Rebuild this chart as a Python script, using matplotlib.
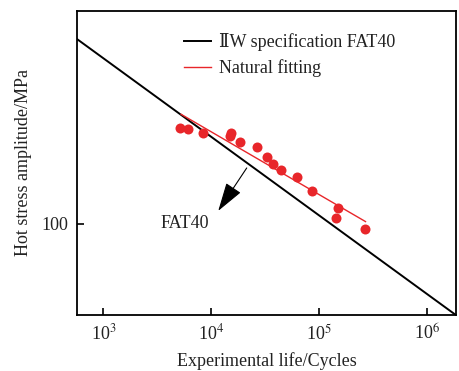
import matplotlib
matplotlib.use("Agg")
import matplotlib.pyplot as plt
from matplotlib.ticker import FixedLocator, NullLocator, FixedFormatter

plt.rcParams['font.family'] = ['Liberation Serif', 'DejaVu Serif']
plt.rcParams['mathtext.fontset'] = 'stix'
plt.rcParams['text.color'] = '#222222'
plt.rcParams['xtick.labelcolor'] = '#222222'
plt.rcParams['ytick.labelcolor'] = '#222222'
plt.rcParams['axes.labelcolor'] = '#222222'

# data
test_N = [5164, 6026, 8433, 15160, 14770, 18510, 26780, 32580, 37030, 44460,
          62030, 85570, 148700, 141600, 267800]
test_S = [254.4, 252.2, 243.8, 243.8, 235.1, 222.6, 212.6, 191.3, 180.1, 169.0,
          158.3, 137.7, 116.5, 105.7, 95.0]
fit_N = [5248, 268400]
fit_S = [291.6, 102.3]
fat_N = [570, 1.85e6]
fat_S = [607.6, 41.05]
x_ticks = [1e3, 1e4, 1e5, 1e6]
x_labels = ['10$^{3}$', '10$^{4}$', '10$^{5}$', '10$^{6}$']
y_ticks = [100]
y_labels = ['100']

fig = plt.figure(figsize=(4.59, 3.71), dpi=100)
ax = fig.add_axes([77/459, 1 - 315/371, (456-77)/459, (315-11)/371])

ax.plot(fat_N, fat_S, color='black', lw=1.4, label='ⅡW specification FAT40')
ax.plot(fit_N, fit_S, color='#e8262a', lw=1.0, label='Natural fitting')
ax.plot(test_N, test_S, 'o', color='#e8262a', ms=7.2, mec='none')

ax.set_xscale('log')
ax.set_yscale('log')
ax.set_xlim(570, 1.85e6)
ax.set_ylim(41.1, 799)

ax.xaxis.set_major_locator(FixedLocator(x_ticks))
ax.xaxis.set_major_formatter(FixedFormatter(x_labels))
ax.xaxis.set_minor_locator(NullLocator())
ax.yaxis.set_major_locator(FixedLocator(y_ticks))
ax.yaxis.set_major_formatter(FixedFormatter(y_labels))
ax.yaxis.set_minor_locator(NullLocator())
ax.tick_params(direction='in', length=5, width=1.2, labelsize=13, pad=6)
for s in ax.spines.values():
    s.set_linewidth(1.3)

ax.set_xlabel('Experimental life/Cycles', fontsize=13, labelpad=6)
ax.set_ylabel('Hot stress amplitude/MPa', fontsize=13, labelpad=7)

ax.annotate('', xy=(11220, 111), xytext=(22010, 176.6),
            arrowprops=dict(arrowstyle='-|>,head_length=1.8,head_width=0.55',
                            color='black', lw=0.8))
ax.text(3350, 100, 'FAT40', fontsize=13, va='center', ha='left')

leg = ax.legend(loc='upper left', bbox_to_anchor=(0.24, 0.98), frameon=False,
                fontsize=13, handlelength=1.5, handletextpad=0.45, labelspacing=0.45)

fig.savefig('out.png', dpi=100)
